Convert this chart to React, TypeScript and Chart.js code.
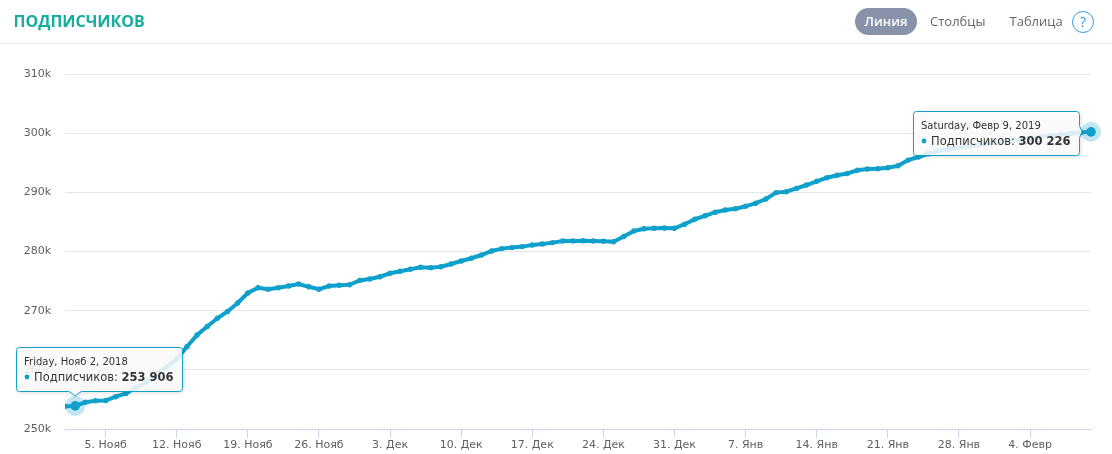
import React, { useEffect, useRef } from "react";
import { Chart, registerables } from "chart.js";

Chart.register(...registerables);

// ---- data ----
// one value per day, index 0 = 1 Nov 2018, index 101 = 10 Feb 2019
const subscribers: number[] = [
  253850, 253906, 254512, 254766, 254817, 255459, 256000, 257014, 257943, 259295,
  260478, 261830, 263909, 265886, 267323, 268709, 269858, 271295, 272985, 273880,
  273627, 273880, 274168, 274506, 274033, 273627, 274168, 274286, 274371, 275097,
  275352, 275740, 276314, 276653, 276991, 277329, 277261, 277430, 277887, 278393,
  278866, 279407, 280084, 280489, 280658, 280827, 281098, 281267, 281503, 281774,
  281790, 281824, 281780, 281750, 281655, 282534, 283464, 283852, 283920, 283971,
  283920, 284613, 285458, 286033, 286641, 287013, 287215, 287638, 288162, 288872,
  289954, 290105, 290663, 291238, 291863, 292472, 292877, 293182, 293723, 293943,
  294000, 294145, 294483, 295446, 295970, 296511, 297069, 297300, 297550, 297800,
  298000, 298250, 298450, 298700, 298900, 299150, 299350, 299550, 299750, 299950,
  300100, 300226,
];

const tickDays: number[] = [4, 11, 18, 25, 32, 39, 46, 53, 60, 67, 74, 81, 88, 95];
const tickLabels: string[] = [
  "5. Нояб", "12. Нояб", "19. Нояб", "26. Нояб", "3. Дек", "10. Дек", "17. Дек",
  "24. Дек", "31. Дек", "7. Янв", "14. Янв", "21. Янв", "28. Янв", "4. Февр",
];
const yMin = 250000;
const yMax = 310000;
const yStep = 10000;

const seriesName = "Подписчиков";
const chartTitle = "ПОДПИСЧИКОВ";
const viewButtons: string[] = ["Линия", "Столбцы", "Таблица"];

const tooltipIndexes: number[] = [1, 101];
const tooltipHeaders: string[] = ["Friday, Нояб 2, 2018", "Saturday, Февр 9, 2019"];
const tooltipSides: string[] = ["above", "left"];

// ---- styles ----
const lineColor = "#0fa0cc";
const tickFont = '"DejaVu Sans"';

function formatNumber(v: number): string {
  return String(v).replace(/\B(?=(\d{3})+(?!\d))/g, " ");
}

function roundRectWithPointer(
  ctx: CanvasRenderingContext2D,
  x: number, y: number, w: number, h: number, r: number,
  side: string, px: number, py: number
) {
  const pw = 6;
  ctx.beginPath();
  ctx.moveTo(x + r, y);
  ctx.lineTo(x + w - r, y);
  ctx.arcTo(x + w, y, x + w, y + r, r);
  if (side === "left") {
    ctx.lineTo(x + w, py - pw);
    ctx.lineTo(px, py);
    ctx.lineTo(x + w, py + pw);
  }
  ctx.lineTo(x + w, y + h - r);
  ctx.arcTo(x + w, y + h, x + w - r, y + h, r);
  if (side === "above") {
    ctx.lineTo(px + pw, y + h);
    ctx.lineTo(px, py);
    ctx.lineTo(px - pw, y + h);
  }
  ctx.lineTo(x + r, y + h);
  ctx.arcTo(x, y + h, x, y + h - r, r);
  ctx.lineTo(x, y + r);
  ctx.arcTo(x, y, x + r, y, r);
  ctx.closePath();
}

const staticTooltips = {
  id: "staticTooltips",
  afterDatasetsDraw(chart: any) {
    const meta = chart.getDatasetMeta(0);
    const ctx: CanvasRenderingContext2D = chart.ctx;
    tooltipIndexes.forEach((idx, k) => {
      const el = meta.data[idx];
      if (!el) return;
      const px = el.x;
      const py = el.y;
      ctx.save();
      // halo + hover marker
      ctx.beginPath();
      ctx.arc(px, py, 10, 0, Math.PI * 2);
      ctx.fillStyle = "rgba(15,160,204,0.25)";
      ctx.fill();
      ctx.beginPath();
      ctx.arc(px, py, 4.8, 0, Math.PI * 2);
      ctx.fillStyle = lineColor;
      ctx.fill();

      const header = tooltipHeaders[k];
      const label = seriesName + ": ";
      const value = formatNumber(subscribers[idx]);
      ctx.font = `10px ${tickFont}`;
      const hw = ctx.measureText(header).width;
      ctx.font = `11.5px ${tickFont}`;
      const lw = ctx.measureText(label).width;
      ctx.font = `bold 11.5px ${tickFont}`;
      const vw = ctx.measureText(value).width;
      const w = Math.round(Math.max(hw + 8, 18 + lw + vw) + 8);
      const h = 44;
      let bx: number, by: number, tipX: number, tipY: number;
      if (tooltipSides[k] === "above") {
        bx = Math.round(px - 59) + 0.5;
        by = Math.round(py - 59) + 0.5;
        tipX = px;
        tipY = py - 10;
      } else {
        bx = Math.round(px - 12 - w) + 0.5;
        by = Math.round(py - 21) + 0.5;
        tipX = px - 9;
        tipY = py;
      }
      roundRectWithPointer(ctx, bx, by, w, h, 3, tooltipSides[k], tipX, tipY);
      ctx.shadowColor = "rgba(0,0,0,0.18)";
      ctx.shadowBlur = 4;
      ctx.shadowOffsetX = 1;
      ctx.shadowOffsetY = 1;
      ctx.fillStyle = "rgba(255,255,255,0.86)";
      ctx.fill();
      ctx.shadowColor = "transparent";
      ctx.strokeStyle = lineColor;
      ctx.lineWidth = 1;
      ctx.stroke();

      ctx.textBaseline = "alphabetic";
      ctx.textAlign = "left";
      ctx.fillStyle = "#333333";
      ctx.font = `10px ${tickFont}`;
      ctx.fillText(header, bx + 7.5, by + 17.5);
      ctx.beginPath();
      ctx.arc(bx + 10.5, by + 29.5, 2.4, 0, Math.PI * 2);
      ctx.fillStyle = lineColor;
      ctx.fill();
      ctx.fillStyle = "#333333";
      ctx.font = `11.5px ${tickFont}`;
      ctx.fillText(label, bx + 17.5, by + 33.5);
      ctx.font = `bold 11.5px ${tickFont}`;
      ctx.fillText(value, bx + 17.5 + lw, by + 33.5);
      ctx.restore();
    });
  },
};

export default function App() {
  const canvasRef = useRef<HTMLCanvasElement | null>(null);

  useEffect(() => {
    document.body.style.margin = "0";
    const canvas = canvasRef.current;
    if (!canvas) return;
    const chart = new Chart(canvas, {
      type: "line",
      data: {
        datasets: [
          {
            label: seriesName,
            data: subscribers.map((y, i) => ({ x: i, y })),
            borderColor: lineColor,
            backgroundColor: lineColor,
            borderWidth: 4,
            pointRadius: 2.7,
            pointBorderWidth: 0,
            pointBackgroundColor: lineColor,
            tension: 0,
          },
        ],
      },
      options: {
        responsive: false,
        animation: false,
        events: [],
        layout: { padding: { top: 74, right: 21, bottom: 0, left: 0 } },
        plugins: {
          legend: { display: false },
          tooltip: { enabled: false },
          title: { display: false },
        },
        scales: {
          x: {
            type: "linear",
            min: 0,
            max: subscribers.length - 1,
            afterBuildTicks: (scale: any) => {
              scale.ticks = tickDays.map((v) => ({ value: v }));
            },
            afterFit: (scale: any) => {
              scale.height = 25;
            },
            grid: {
              display: true,
              drawOnChartArea: false,
              drawTicks: true,
              tickLength: 9,
              color: "#ccd6eb",
            },
            border: { display: true, color: "#ccd6eb", width: 1 },
            ticks: {
              autoSkip: false,
              maxRotation: 0,
              padding: 1,
              color: "#606060",
              font: { family: tickFont, size: 11 },
              callback: (value: any) => {
                const i = tickDays.indexOf(Number(value));
                return i >= 0 ? tickLabels[i] : "";
              },
            },
          },
          y: {
            min: yMin,
            max: yMax,
            afterFit: (scale: any) => {
              scale.width = 65;
            },
            grid: { color: "#e6e6e6", drawTicks: false, lineWidth: 1 },
            border: { display: false },
            ticks: {
              stepSize: yStep,
              padding: 14,
              color: "#606060",
              font: { family: tickFont, size: 11 },
              callback: (value: any) => Number(value) / 1000 + "k",
            },
          },
        },
      },
      plugins: [staticTooltips],
    });
    return () => chart.destroy();
  }, []);

  const btnBase: React.CSSProperties = {
    position: "absolute",
    top: 8,
    height: 27,
    lineHeight: "27px",
    fontFamily: '"Open Sans", sans-serif',
    fontSize: 13,
    whiteSpace: "nowrap",
  };

  return (
    <div
      style={{
        position: "fixed",
        left: 0,
        top: 0,
        width: 1112,
        height: 454,
        background: "#ffffff",
        overflow: "hidden",
      }}
    >
      <canvas
        ref={canvasRef}
        width={1112}
        height={454}
        style={{ position: "absolute", left: 0, top: 0, display: "block" }}
      />
      <div
        style={{
          position: "absolute",
          left: 0,
          top: 0,
          width: 1112,
          height: 43,
          borderBottom: "1px solid #e8e8e8",
        }}
      >
        <div
          style={{
            position: "absolute",
            left: 13.5,
            top: 9.5,
            lineHeight: "22px",
            fontFamily: '"Open Sans", sans-serif',
            fontWeight: 700,
            fontSize: 16,
            color: "#17ae9c",
            whiteSpace: "nowrap",
          }}
        >
          {chartTitle}
        </div>
        <div
          style={{
            ...btnBase,
            left: 855,
            width: 62,
            borderRadius: 14,
            background: "#8893a9",
            color: "#ffffff",
            fontWeight: 600,
            textAlign: "center",
          }}
        >
          {viewButtons[0]}
        </div>
        <div style={{ ...btnBase, left: 930, color: "#666666" }}>{viewButtons[1]}</div>
        <div style={{ ...btnBase, left: 1009.5, color: "#666666" }}>{viewButtons[2]}</div>
        <div
          style={{
            position: "absolute",
            left: 1072,
            top: 11,
            width: 22,
            height: 22,
            boxSizing: "border-box",
            border: "1.5px solid #3b9ae1",
            borderRadius: "50%",
            color: "#3b9ae1",
            fontFamily: '"Open Sans", sans-serif',
            fontSize: 14,
            lineHeight: "19px",
            textAlign: "center",
          }}
        >
          ?
        </div>
      </div>
    </div>
  );
}
